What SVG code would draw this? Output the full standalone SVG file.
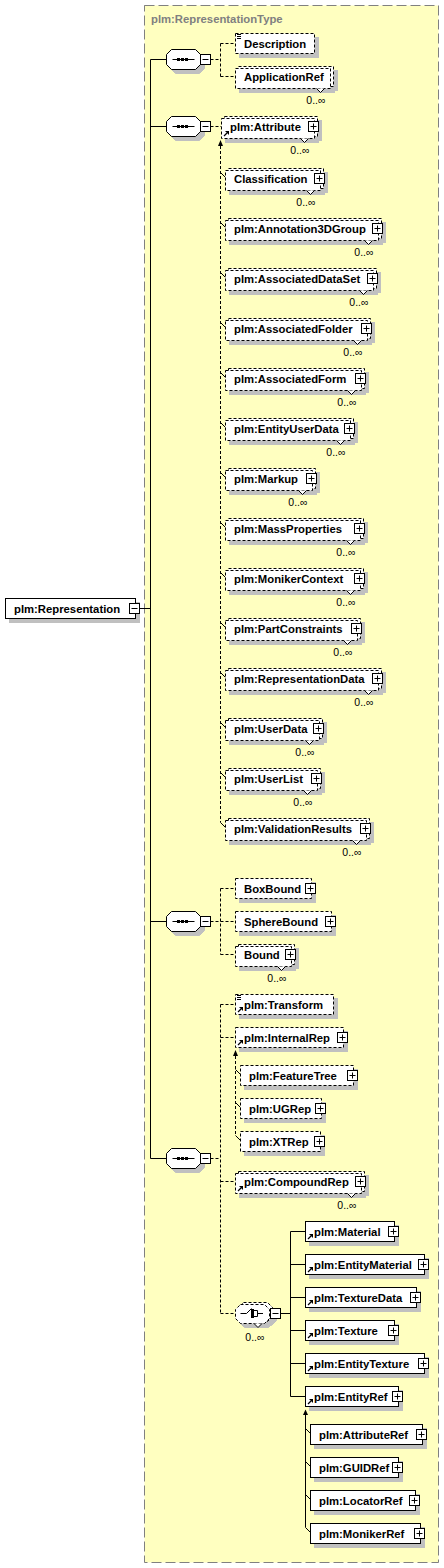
<svg xmlns="http://www.w3.org/2000/svg" xmlns:xlink="http://www.w3.org/1999/xlink" width="444" height="1568" viewBox="0 0 444 1568">
<style>
.bx{fill:#fff;stroke:#000;stroke-width:1}
.bd{fill:#fff;stroke:#000;stroke-width:1;stroke-dasharray:3 2}
.sh{fill:#c0c0c0;stroke:#c0c0c0;stroke-width:1}
.t{font-family:"Liberation Sans",Arial,sans-serif;font-size:11.3px;font-weight:bold;fill:#000}
.c{font-family:"Liberation Sans",Arial,sans-serif;font-size:10.5px;fill:#000;text-anchor:end}
.ln{fill:none;stroke:#000;stroke-width:1}
.ld{fill:none;stroke:#000;stroke-width:1;stroke-dasharray:3 2}
</style>
<defs>
<g id="pl"><rect x="0" y="0" width="10" height="10" fill="#fff" stroke="#000"/><path d="M2,5H8M5,2V8" stroke="#000"/></g>
<g id="mi"><rect x="0" y="0" width="10" height="10" fill="#fff" stroke="#000"/><path d="M2,5H8" stroke="#000"/></g>
<g id="rf"><path d="M2.5,-2.5L5.5,-5.5" stroke="#000" stroke-width="1.3"/><path d="M3.5,-7.5H7.5V-3.5Z" fill="#000"/></g>
<g id="eq"><path d="M1.5,1H5.5M1.5,3H5.5M1.5,5H5.5" stroke="#000"/></g>
<g id="vn"><polygon points="-14,0 -10,4 -6,0" fill="#fff"/><polyline points="-14,0 -10,4 -6,0" fill="none" stroke="#000"/></g>
<polygon id="oct" points="5,-10 29,-10 34,-5 34,5 29,10 5,10 0,5 0,-5"/>
<polygon id="oc2" points="5,0 29,0 34,5 34,14 29,19 5,19 0,14 0,5"/>
<g id="seq">
<use href="#oct" x="4" y="4" class="sh"/>
<use href="#oct" class="bx"/>
<path d="M6,0H28" stroke="#000"/>
<rect x="10.5" y="-1.5" width="3" height="3" fill="#000"/>
<rect x="14.5" y="-1.5" width="3" height="3" fill="#000"/>
<rect x="18.5" y="-1.5" width="3" height="3" fill="#000"/>
<use href="#mi" x="34" y="-5"/>
</g>
</defs>

<rect x="144.5" y="5.5" width="294" height="1557" fill="#FFFFC0" stroke="#808080" stroke-dasharray="10 4"/>
<text x="151" y="23" style="font-family:'Liberation Sans',Arial,sans-serif;font-size:11.3px;font-weight:bold;fill:#808080">plm:RepresentationType</text>

<g id="connectors">
<path class="ln" d="M139.5,608.5H150.5M150.5,59.5V1158.5M150.5,59.5H166.5M150.5,126.5H166.5M150.5,921.5H166.5M150.5,1158.5H166.5"/>
<path class="ld" d="M210.5,59.5H220.5M220.5,43.5V76.5M220.5,43.5H235.5M220.5,76.5H235.5"/>
<path class="ld" d="M210.5,126.5H221.5M220.5,146V822.5"/>
<path class="ln" d="M220.5,172.5L225.5,177.5M220.5,222.5L225.5,227.5M220.5,272.5L225.5,277.5M220.5,322.5L225.5,327.5M220.5,372.5L225.5,377.5M220.5,422.5L225.5,427.5M220.5,472.5L225.5,477.5M220.5,522.5L225.5,527.5M220.5,572.5L225.5,577.5M220.5,622.5L225.5,627.5M220.5,672.5L225.5,677.5M220.5,722.5L225.5,727.5M220.5,772.5L225.5,777.5M220.5,822.5L225.5,827.5"/>
<polygon points="220.5,140 218,146 223,146" fill="#000"/>
<path class="ld" d="M210.5,921.5H220.5M220.5,888.5V954.5M220.5,888.5H235.5M220.5,921.5H235.5M220.5,954.5H235.5"/>
<path class="ld" d="M210.5,1158.5H220.5M220.5,1004.5V1313.5M220.5,1004.5H235.5M220.5,1037.5H235.5M220.5,1181.5H235.5M220.5,1313.5H235.5"/>
<path class="ld" d="M235.5,1056V1135.5"/>
<path class="ln" d="M235.5,1069.5L240.5,1074.5M235.5,1102.5L240.5,1107.5M235.5,1135.5L240.5,1140.5"/>
<polygon points="235.5,1050 233,1056 238,1056" fill="#000"/>
<path class="ln" d="M280.5,1313.5H290.5M290.5,1231.5V1396.5M290.5,1231.5H305.5M290.5,1264.5H305.5M290.5,1297.5H305.5M290.5,1330.5H305.5M290.5,1363.5H305.5M290.5,1396.5H305.5"/>
<path class="ln" d="M305.5,1415V1527.5M305.5,1428.5L310.5,1433.5M305.5,1461.5L310.5,1466.5M305.5,1494.5L310.5,1499.5M305.5,1527.5L310.5,1532.5"/>
<polygon points="305.5,1409.5 303,1415 308,1415" fill="#000"/>
</g>

<g id="n-representation">
<rect class="sh" x="9.5" y="602.5" width="130" height="20"/>
<rect class="bx" x="5.5" y="598.5" width="130" height="20"/>
<text class="t" x="14" y="612.5">plm:Representation</text>
<use href="#mi" x="129.5" y="603.5"/>
</g>

<g id="seq1"><use href="#seq" x="166.5" y="59.5"/></g>
<g id="seq2"><use href="#seq" x="166.5" y="126.5"/></g>
<g id="seq3"><use href="#seq" x="166.5" y="921.5"/></g>
<g id="seq4"><use href="#seq" x="166.5" y="1158.5"/></g>

<g id="n-description">
<rect class="sh" x="239.5" y="37.5" width="79" height="20"/>
<rect class="bd" x="235.5" y="33.5" width="79" height="20"/>
<use href="#eq" x="235.5" y="33.5"/>
<text class="t" x="244" y="47.5">Description</text>
</g>
<g id="n-applicationref">
<rect class="sh" x="242.5" y="70.5" width="95" height="20"/>
<rect class="sh" x="239.5" y="72.5" width="95" height="20"/>
<rect class="bd" x="238.5" y="66.5" width="95" height="20"/>
<rect class="bd" x="235.5" y="68.5" width="95" height="20"/>
<text class="t" x="244" y="80.5">ApplicationRef</text>
<use href="#vn" x="330.5" y="88.5"/>
<text class="c" x="325.5" y="104">0..∞</text>
</g>

<g id="n-attribute">
<rect class="sh" x="228.5" y="120.5" width="93" height="20"/>
<rect class="sh" x="225.5" y="122.5" width="93" height="20"/>
<rect class="bd" x="224.5" y="116.5" width="93" height="20"/>
<rect class="bd" x="221.5" y="118.5" width="93" height="20"/>
<text class="t" x="230" y="130.5">plm:Attribute</text>
<use href="#pl" x="308.5" y="121.5"/>
<use href="#rf" x="221.5" y="138.5"/>
<use href="#vn" x="314.5" y="138.5"/>
<text class="c" x="309.5" y="154">0..∞</text>
</g>
<g id="n-classification">
<rect class="sh" x="232.5" y="172.5" width="95" height="20"/>
<rect class="sh" x="229.5" y="174.5" width="95" height="20"/>
<rect class="bd" x="228.5" y="168.5" width="95" height="20"/>
<rect class="bd" x="225.5" y="170.5" width="95" height="20"/>
<text class="t" x="234" y="182.5">Classification</text>
<use href="#pl" x="314.5" y="173.5"/>
<use href="#vn" x="320.5" y="190.5"/>
<text class="c" x="315.5" y="206">0..∞</text>
</g>
<g id="n-annotation3dgroup">
<rect class="sh" x="232.5" y="222.5" width="153" height="20"/>
<rect class="sh" x="229.5" y="224.5" width="153" height="20"/>
<rect class="bd" x="228.5" y="218.5" width="153" height="20"/>
<rect class="bd" x="225.5" y="220.5" width="153" height="20"/>
<text class="t" x="234" y="232.5">plm:Annotation3DGroup</text>
<use href="#pl" x="372.5" y="223.5"/>
<use href="#vn" x="378.5" y="240.5"/>
<text class="c" x="373.5" y="256">0..∞</text>
</g>
<g id="n-associateddataset">
<rect class="sh" x="232.5" y="272.5" width="148" height="20"/>
<rect class="sh" x="229.5" y="274.5" width="148" height="20"/>
<rect class="bd" x="228.5" y="268.5" width="148" height="20"/>
<rect class="bd" x="225.5" y="270.5" width="148" height="20"/>
<text class="t" x="234" y="282.5">plm:AssociatedDataSet</text>
<use href="#pl" x="367.5" y="273.5"/>
<use href="#vn" x="373.5" y="290.5"/>
<text class="c" x="368.5" y="306">0..∞</text>
</g>
<g id="n-associatedfolder">
<rect class="sh" x="232.5" y="322.5" width="142" height="20"/>
<rect class="sh" x="229.5" y="324.5" width="142" height="20"/>
<rect class="bd" x="228.5" y="318.5" width="142" height="20"/>
<rect class="bd" x="225.5" y="320.5" width="142" height="20"/>
<text class="t" x="234" y="332.5">plm:AssociatedFolder</text>
<use href="#pl" x="361.5" y="323.5"/>
<use href="#vn" x="367.5" y="340.5"/>
<text class="c" x="362.5" y="356">0..∞</text>
</g>
<g id="n-associatedform">
<rect class="sh" x="232.5" y="372.5" width="136" height="20"/>
<rect class="sh" x="229.5" y="374.5" width="136" height="20"/>
<rect class="bd" x="228.5" y="368.5" width="136" height="20"/>
<rect class="bd" x="225.5" y="370.5" width="136" height="20"/>
<text class="t" x="234" y="382.5">plm:AssociatedForm</text>
<use href="#pl" x="355.5" y="373.5"/>
<use href="#vn" x="361.5" y="390.5"/>
<text class="c" x="356.5" y="406">0..∞</text>
</g>
<g id="n-entityuserdata">
<rect class="sh" x="232.5" y="422.5" width="125" height="20"/>
<rect class="sh" x="229.5" y="424.5" width="125" height="20"/>
<rect class="bd" x="228.5" y="418.5" width="125" height="20"/>
<rect class="bd" x="225.5" y="420.5" width="125" height="20"/>
<text class="t" x="234" y="432.5">plm:EntityUserData</text>
<use href="#pl" x="344.5" y="423.5"/>
<use href="#vn" x="350.5" y="440.5"/>
<text class="c" x="345.5" y="456">0..∞</text>
</g>
<g id="n-markup">
<rect class="sh" x="232.5" y="472.5" width="87" height="20"/>
<rect class="sh" x="229.5" y="474.5" width="87" height="20"/>
<rect class="bd" x="228.5" y="468.5" width="87" height="20"/>
<rect class="bd" x="225.5" y="470.5" width="87" height="20"/>
<text class="t" x="234" y="482.5">plm:Markup</text>
<use href="#pl" x="306.5" y="473.5"/>
<use href="#vn" x="312.5" y="490.5"/>
<text class="c" x="307.5" y="506">0..∞</text>
</g>
<g id="n-massproperties">
<rect class="sh" x="232.5" y="522.5" width="135" height="20"/>
<rect class="sh" x="229.5" y="524.5" width="135" height="20"/>
<rect class="bd" x="228.5" y="518.5" width="135" height="20"/>
<rect class="bd" x="225.5" y="520.5" width="135" height="20"/>
<text class="t" x="234" y="532.5">plm:MassProperties</text>
<use href="#pl" x="354.5" y="523.5"/>
<use href="#vn" x="360.5" y="540.5"/>
<text class="c" x="355.5" y="556">0..∞</text>
</g>
<g id="n-monikercontext">
<rect class="sh" x="232.5" y="572.5" width="135" height="20"/>
<rect class="sh" x="229.5" y="574.5" width="135" height="20"/>
<rect class="bd" x="228.5" y="568.5" width="135" height="20"/>
<rect class="bd" x="225.5" y="570.5" width="135" height="20"/>
<text class="t" x="234" y="582.5">plm:MonikerContext</text>
<use href="#pl" x="354.5" y="573.5"/>
<use href="#vn" x="360.5" y="590.5"/>
<text class="c" x="355.5" y="606">0..∞</text>
</g>
<g id="n-partconstraints">
<rect class="sh" x="232.5" y="622.5" width="132" height="20"/>
<rect class="sh" x="229.5" y="624.5" width="132" height="20"/>
<rect class="bd" x="228.5" y="618.5" width="132" height="20"/>
<rect class="bd" x="225.5" y="620.5" width="132" height="20"/>
<text class="t" x="234" y="632.5">plm:PartConstraints</text>
<use href="#pl" x="351.5" y="623.5"/>
<use href="#vn" x="357.5" y="640.5"/>
<text class="c" x="352.5" y="656">0..∞</text>
</g>
<g id="n-representationdata">
<rect class="sh" x="232.5" y="672.5" width="153" height="20"/>
<rect class="sh" x="229.5" y="674.5" width="153" height="20"/>
<rect class="bd" x="228.5" y="668.5" width="153" height="20"/>
<rect class="bd" x="225.5" y="670.5" width="153" height="20"/>
<text class="t" x="234" y="682.5">plm:RepresentationData</text>
<use href="#pl" x="372.5" y="673.5"/>
<use href="#vn" x="378.5" y="690.5"/>
<text class="c" x="373.5" y="706">0..∞</text>
</g>
<g id="n-userdata">
<rect class="sh" x="232.5" y="722.5" width="94" height="20"/>
<rect class="sh" x="229.5" y="724.5" width="94" height="20"/>
<rect class="bd" x="228.5" y="718.5" width="94" height="20"/>
<rect class="bd" x="225.5" y="720.5" width="94" height="20"/>
<text class="t" x="234" y="732.5">plm:UserData</text>
<use href="#pl" x="313.5" y="723.5"/>
<use href="#vn" x="319.5" y="740.5"/>
<text class="c" x="314.5" y="756">0..∞</text>
</g>
<g id="n-userlist">
<rect class="sh" x="232.5" y="772.5" width="92" height="20"/>
<rect class="sh" x="229.5" y="774.5" width="92" height="20"/>
<rect class="bd" x="228.5" y="768.5" width="92" height="20"/>
<rect class="bd" x="225.5" y="770.5" width="92" height="20"/>
<text class="t" x="234" y="782.5">plm:UserList</text>
<use href="#pl" x="311.5" y="773.5"/>
<use href="#vn" x="317.5" y="790.5"/>
<text class="c" x="312.5" y="806">0..∞</text>
</g>
<g id="n-validationresults">
<rect class="sh" x="232.5" y="822.5" width="141" height="20"/>
<rect class="sh" x="229.5" y="824.5" width="141" height="20"/>
<rect class="bd" x="228.5" y="818.5" width="141" height="20"/>
<rect class="bd" x="225.5" y="820.5" width="141" height="20"/>
<text class="t" x="234" y="832.5">plm:ValidationResults</text>
<use href="#pl" x="360.5" y="823.5"/>
<use href="#vn" x="366.5" y="840.5"/>
<text class="c" x="361.5" y="856">0..∞</text>
</g>

<g id="n-boxbound">
<rect class="sh" x="239.5" y="882.5" width="76" height="20"/>
<rect class="bd" x="235.5" y="878.5" width="76" height="20"/>
<text class="t" x="244" y="892.5">BoxBound</text>
<use href="#pl" x="305.5" y="883.5"/>
</g>
<g id="n-spherebound">
<rect class="sh" x="239.5" y="915.5" width="96" height="20"/>
<rect class="bd" x="235.5" y="911.5" width="96" height="20"/>
<text class="t" x="244" y="925.5">SphereBound</text>
<use href="#pl" x="325.5" y="916.5"/>
</g>
<g id="n-bound">
<rect class="sh" x="242.5" y="948.5" width="56" height="20"/>
<rect class="sh" x="239.5" y="950.5" width="56" height="20"/>
<rect class="bd" x="238.5" y="944.5" width="56" height="20"/>
<rect class="bd" x="235.5" y="946.5" width="56" height="20"/>
<text class="t" x="244" y="958.5">Bound</text>
<use href="#pl" x="285.5" y="949.5"/>
<use href="#vn" x="291.5" y="966.5"/>
<text class="c" x="286.5" y="982">0..∞</text>
</g>

<g id="n-transform">
<rect class="sh" x="239.5" y="998.5" width="98" height="20"/>
<rect class="bd" x="235.5" y="994.5" width="98" height="20"/>
<use href="#eq" x="235.5" y="994.5"/>
<use href="#rf" x="235.5" y="1014.5"/>
<text class="t" x="244" y="1008.5">plm:Transform</text>
</g>
<g id="n-internalrep">
<rect class="sh" x="239.5" y="1031.5" width="108" height="20"/>
<rect class="bd" x="235.5" y="1027.5" width="108" height="20"/>
<use href="#rf" x="235.5" y="1047.5"/>
<text class="t" x="244" y="1041.5">plm:InternalRep</text>
<use href="#pl" x="337.5" y="1032.5"/>
</g>
<g id="n-featuretree">
<rect class="sh" x="244.5" y="1069.5" width="113" height="20"/>
<rect class="bd" x="240.5" y="1065.5" width="113" height="20"/>
<text class="t" x="249" y="1079.5">plm:FeatureTree</text>
<use href="#pl" x="347.5" y="1070.5"/>
</g>
<g id="n-ugrep">
<rect class="sh" x="244.5" y="1102.5" width="81" height="20"/>
<rect class="bd" x="240.5" y="1098.5" width="81" height="20"/>
<text class="t" x="249" y="1112.5">plm:UGRep</text>
<use href="#pl" x="315.5" y="1103.5"/>
</g>
<g id="n-xtrep">
<rect class="sh" x="244.5" y="1135.5" width="80" height="20"/>
<rect class="bd" x="240.5" y="1131.5" width="80" height="20"/>
<text class="t" x="249" y="1145.5">plm:XTRep</text>
<use href="#pl" x="314.5" y="1136.5"/>
</g>
<g id="n-compoundrep">
<rect class="sh" x="242.5" y="1175.5" width="126" height="20"/>
<rect class="sh" x="239.5" y="1177.5" width="126" height="20"/>
<rect class="bd" x="238.5" y="1171.5" width="126" height="20"/>
<rect class="bd" x="235.5" y="1173.5" width="126" height="20"/>
<use href="#rf" x="235.5" y="1193.5"/>
<text class="t" x="244" y="1185.5">plm:CompoundRep</text>
<use href="#pl" x="355.5" y="1176.5"/>
<use href="#vn" x="361.5" y="1193.5"/>
<text class="c" x="356.5" y="1209">0..∞</text>
</g>

<g id="choice">
<use href="#oc2" x="242.5" y="1306.5" class="sh"/>
<use href="#oc2" x="239.5" y="1308.5" class="sh"/>
<use href="#oc2" x="238.5" y="1302.5" class="bd"/>
<use href="#oc2" x="235.5" y="1304.5" class="bd"/>
<path class="ln" d="M240.5,1313.5H246.5L251.5,1308.5M254,1310.5H257.5V1316.5H254M257.5,1313.5H263"/>
<rect x="251" y="1309" width="3" height="3" fill="#000"/>
<rect x="251" y="1312" width="3" height="3" fill="#000"/>
<rect x="251" y="1315" width="3" height="3" fill="#000"/>
<use href="#mi" x="270.5" y="1308.5"/>
<use href="#vn" x="268" y="1323.5"/>
<text class="c" x="264.5" y="1341">0..∞</text>
</g>

<g id="n-material">
<rect class="sh" x="309.5" y="1225.5" width="89" height="20"/>
<rect class="bx" x="305.5" y="1221.5" width="89" height="20"/>
<use href="#rf" x="305.5" y="1241.5"/>
<text class="t" x="314" y="1235.5">plm:Material</text>
<use href="#pl" x="388.5" y="1226.5"/>
</g>
<g id="n-entitymaterial">
<rect class="sh" x="309.5" y="1258.5" width="119" height="20"/>
<rect class="bx" x="305.5" y="1254.5" width="119" height="20"/>
<use href="#rf" x="305.5" y="1274.5"/>
<text class="t" x="314" y="1268.5">plm:EntityMaterial</text>
<use href="#pl" x="418.5" y="1259.5"/>
</g>
<g id="n-texturedata">
<rect class="sh" x="309.5" y="1291.5" width="111" height="20"/>
<rect class="bx" x="305.5" y="1287.5" width="111" height="20"/>
<use href="#rf" x="305.5" y="1307.5"/>
<text class="t" x="314" y="1301.5">plm:TextureData</text>
<use href="#pl" x="410.5" y="1292.5"/>
</g>
<g id="n-texture">
<rect class="sh" x="309.5" y="1324.5" width="89" height="20"/>
<rect class="bx" x="305.5" y="1320.5" width="89" height="20"/>
<use href="#rf" x="305.5" y="1340.5"/>
<text class="t" x="314" y="1334.5">plm:Texture</text>
<use href="#pl" x="388.5" y="1325.5"/>
</g>
<g id="n-entitytexture">
<rect class="sh" x="309.5" y="1357.5" width="119" height="20"/>
<rect class="bx" x="305.5" y="1353.5" width="119" height="20"/>
<use href="#rf" x="305.5" y="1373.5"/>
<text class="t" x="314" y="1367.5">plm:EntityTexture</text>
<use href="#pl" x="418.5" y="1358.5"/>
</g>
<g id="n-entityref">
<rect class="sh" x="309.5" y="1390.5" width="93" height="20"/>
<rect class="bx" x="305.5" y="1386.5" width="93" height="20"/>
<use href="#rf" x="305.5" y="1406.5"/>
<text class="t" x="314" y="1400.5">plm:EntityRef</text>
<use href="#pl" x="392.5" y="1391.5"/>
</g>
<g id="n-attributeref">
<rect class="sh" x="314.5" y="1428.5" width="112" height="20"/>
<rect class="bx" x="310.5" y="1424.5" width="112" height="20"/>
<text class="t" x="319" y="1438.5">plm:AttributeRef</text>
<use href="#pl" x="416.5" y="1429.5"/>
</g>
<g id="n-guidref">
<rect class="sh" x="314.5" y="1461.5" width="88" height="20"/>
<rect class="bx" x="310.5" y="1457.5" width="88" height="20"/>
<text class="t" x="319" y="1471.5">plm:GUIDRef</text>
<use href="#pl" x="392.5" y="1462.5"/>
</g>
<g id="n-locatorref">
<rect class="sh" x="314.5" y="1494.5" width="105" height="20"/>
<rect class="bx" x="310.5" y="1490.5" width="105" height="20"/>
<text class="t" x="319" y="1504.5">plm:LocatorRef</text>
<use href="#pl" x="409.5" y="1495.5"/>
</g>
<g id="n-monikerref">
<rect class="sh" x="314.5" y="1527.5" width="110" height="20"/>
<rect class="bx" x="310.5" y="1523.5" width="110" height="20"/>
<text class="t" x="319" y="1537.5">plm:MonikerRef</text>
<use href="#pl" x="414.5" y="1528.5"/>
</g>
</svg>
